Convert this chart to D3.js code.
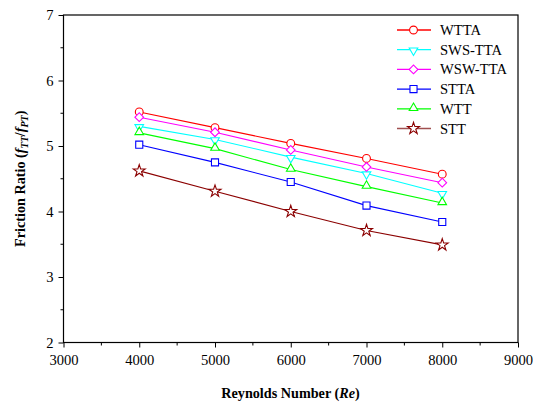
<!DOCTYPE html>
<html>
<head>
<meta charset="utf-8">
<script src="https://cdn.jsdelivr.net/npm/d3@7"></script>
<style>
  body { margin: 0; background: #fff; }
</style>
</head>
<body>
<svg id="chart" width="533" height="405"></svg>
<script>
// data
const reynolds = [4000, 5000, 6000, 7000, 8000];
const wtta = [5.52, 5.28, 5.04, 4.81, 4.57];
const swsTta = [5.30, 5.10, 4.83, 4.58, 4.28];
const wswTta = [5.44, 5.21, 4.94, 4.68, 4.44];
const stta = [5.02, 4.75, 4.45, 4.09, 3.84];
const wtt = [5.20, 4.96, 4.64, 4.38, 4.13];
const stt = [4.62, 4.31, 4.00, 3.71, 3.49];
const xTicks = [3000, 4000, 5000, 6000, 7000, 8000, 9000];
const yTicks = [2, 3, 4, 5, 6, 7];

const series = [
    { name: "WTTA", values: wtta, color: "#ff0000", marker: "circle" },
    { name: "SWS-TTA", values: swsTta, color: "#00ffff", marker: "triDown" },
    { name: "WSW-TTA", values: wswTta, color: "#ff00ff", marker: "diamond" },
    { name: "STTA", values: stta, color: "#0000ff", marker: "square" },
    { name: "WTT", values: wtt, color: "#00ff00", marker: "triUp" },
    { name: "STT", values: stt, color: "#8b0000", marker: "star", legendLine: "#a05050" }
];

const FONT = "'Liberation Serif', 'Times New Roman', serif";
const svg = d3.select("#chart").style("font-family", FONT);
const m = { left: 63.5, right: 518, top: 15, bottom: 342.5 };

const x = d3.scaleLinear().domain([3000, 9000]).range([m.left, m.right]);
const y = d3.scaleLinear().domain([2, 7]).range([m.bottom, m.top]);

// marker shapes (diamond = square turned 45deg)
const symbols = {
    circle: d3.symbol(d3.symbolCircle, 48),
    square: d3.symbol(d3.symbolSquare, 50),
    diamond: d3.symbol(d3.symbolSquare, 38),
    triUp: d3.symbol(d3.symbolTriangle, 32),
    triDown: d3.symbol(d3.symbolTriangle, 32),
    star: d3.symbol(d3.symbolStar, 44)
};

function drawMarker(g, s, cx, cy) {
    const p = g.append("path")
        .attr("d", symbols[s.marker]())
        .attr("fill", "#fff")
        .attr("stroke", s.color)
        .attr("stroke-width", 1.1);
    if (s.marker === "triDown")
        p.attr("transform", `translate(${cx},${cy + 0.8}) rotate(180)`);
    else if (s.marker === "triUp")
        p.attr("transform", `translate(${cx},${cy - 0.8})`);
    else if (s.marker === "diamond")
        p.attr("transform", `translate(${cx},${cy}) rotate(45)`);
    else
        p.attr("transform", `translate(${cx},${cy})`);
}

// axes (outer ticks on bottom and left only)
const xAxis = d3.axisBottom(x).tickValues(xTicks).tickFormat(d3.format("d"))
    .tickSize(5).tickSizeOuter(0).tickPadding(7);
const yAxis = d3.axisLeft(y).tickValues(yTicks).tickFormat(d3.format("d"))
    .tickSize(5).tickSizeOuter(0).tickPadding(5);

const gx = svg.append("g").attr("transform", `translate(0,${m.bottom})`).call(xAxis);
const gy = svg.append("g").attr("transform", `translate(${m.left},0)`).call(yAxis);

// minor ticks
svg.append("g").selectAll("line")
    .data(d3.range(3500, 9000, 1000))
    .join("line")
    .attr("x1", d => x(d)).attr("x2", d => x(d))
    .attr("y1", m.bottom).attr("y2", m.bottom + 3)
    .attr("stroke", "#000");
svg.append("g").selectAll("line")
    .data(d3.range(2.5, 7, 1))
    .join("line")
    .attr("y1", d => y(d)).attr("y2", d => y(d))
    .attr("x1", m.left).attr("x2", m.left - 3)
    .attr("stroke", "#000");

[gx, gy].forEach(g => {
    g.select(".domain").remove();
    g.selectAll("text")
        .style("font-family", FONT)
        .attr("font-size", 14.6)
        .attr("fill", "#000");
    g.selectAll("line").attr("stroke", "#000");
});

// plot frame
svg.append("rect")
    .attr("x", m.left).attr("y", m.top)
    .attr("width", m.right - m.left).attr("height", m.bottom - m.top)
    .attr("fill", "none").attr("stroke", "#000").attr("stroke-width", 1.2);

// series
const line = d3.line().x((d, i) => x(reynolds[i])).y(d => y(d));
series.forEach(s => {
    svg.append("path")
        .attr("d", line(s.values))
        .attr("fill", "none")
        .attr("stroke", s.color)
        .attr("stroke-width", 1.1);
});
series.forEach(s => {
    const g = svg.append("g");
    s.values.forEach((v, i) => drawMarker(g, s, x(reynolds[i]), y(v)));
});

// legend
const legend = svg.append("g");
series.forEach((s, i) => {
    const ly = 30 + i * 19.7;
    legend.append("line")
        .attr("x1", 397).attr("x2", 431)
        .attr("y1", ly).attr("y2", ly)
        .attr("stroke", s.legendLine || s.color)
        .attr("stroke-width", 1.3);
    drawMarker(legend, s, 413.5, ly);
    legend.append("text")
        .attr("x", 440).attr("y", ly + 5)
        .style("font-family", FONT)
        .attr("font-size", 14.6)
        .text(s.name);
});

// axis titles
svg.append("text")
    .attr("x", 290.5).attr("y", 398)
    .attr("text-anchor", "middle")
    .style("font-family", FONT)
    .attr("font-weight", "bold")
    .attr("font-size", 14.2)
    .call(t => {
        t.append("tspan").text("Reynolds Number (");
        t.append("tspan").attr("font-style", "italic").text("Re");
        t.append("tspan").text(")");
    });

svg.append("text")
    .attr("transform", `translate(25,${(m.top + m.bottom) / 2}) rotate(-90)`)
    .attr("text-anchor", "middle")
    .style("font-family", FONT)
    .attr("font-weight", "bold")
    .attr("font-size", 14.2)
    .call(t => {
        t.append("tspan").text("Friction Ratio (");
        t.append("tspan").attr("font-style", "italic").text("f");
        t.append("tspan").attr("font-style", "italic").attr("font-size", 10).attr("dy", 3).text("TT");
        t.append("tspan").attr("dy", -3).text("/");
        t.append("tspan").attr("font-style", "italic").text("f");
        t.append("tspan").attr("font-style", "italic").attr("font-size", 10).attr("dy", 3).text("PT");
        t.append("tspan").attr("dy", -3).text(")");
    });
</script>
</body>
</html>
